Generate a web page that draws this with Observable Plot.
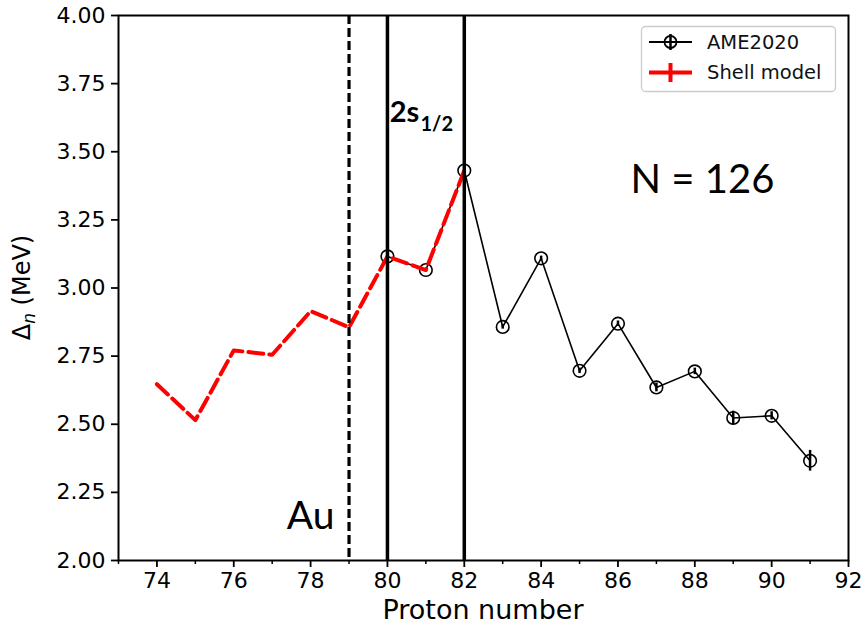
<!DOCTYPE html>
<html>
<head>
<meta charset="utf-8">
<script src="https://cdn.jsdelivr.net/npm/d3@7"></script>
<script src="https://cdn.jsdelivr.net/npm/@observablehq/plot@0.6"></script>
<style>
  html, body { margin: 0; padding: 0; background: white; }
  #chart { width: 861px; height: 632px; }
</style>
</head>
<body>
<div id="chart"></div>
<script>
// Shell model (red dashed)
const shellZ = [74, 75, 76, 77, 78, 79, 80, 81, 82];
const shellD = [2.647, 2.515, 2.771, 2.755, 2.915, 2.856, 3.116, 3.066, 3.431];
// AME2020 (black, circles with error bars)
const ameZ = [80, 81, 82, 83, 84, 85, 86, 87, 88, 89, 90, 91];
const ameD = [3.116, 3.066, 3.431, 2.857, 3.109, 2.696, 2.869, 2.635, 2.694, 2.523, 2.531, 2.366];
const ameErr = [0.006, 0.006, 0.006, 0.008, 0.008, 0.01, 0.01, 0.016, 0.012, 0.025, 0.015, 0.038];
// Reference lines
const dashedLines = [79];
const solidLines = [80, 82];
// Tick values
const xTicks = [74, 76, 78, 80, 82, 84, 86, 88, 90, 92];
const xMinorTicks = [73, 75, 77, 79, 81, 83, 85, 87, 89, 91];
const yTicks = [2.0, 2.25, 2.5, 2.75, 3.0, 3.25, 3.5, 3.75, 4.0];
// Annotations
const annN = [{x: 88.2, y: 3.35, text: "N = 126"}];
const annAu = [{x: 78.62, y: 2.115, text: "Au"}];
const annOrbit = [{x: 80.06, y: 3.61, text: "2s"}];
const annOrbitSub = [{x: 80.86, y: 3.575, text: "1/2"}];

const shell = shellZ.map((z, i) => ({z, d: shellD[i]}));
const ame = ameZ.map((z, i) => ({z, d: ameD[i], e: ameErr[i]}));

const W = 861, H = 632;
const mL = 118, mR = 13, mT = 15, mB = 72;

const plot = Plot.plot({
  width: W, height: H,
  marginLeft: mL, marginRight: mR, marginTop: mT, marginBottom: mB,
  style: {fontFamily: "DejaVu Sans", fontSize: "22px", color: "black", background: "white"},
  x: {domain: [73, 92]},
  y: {domain: [2, 4]},
  marks: [
    Plot.line(ame, {x: "z", y: "d", stroke: "black", strokeWidth: 1.6}),
    Plot.ruleX(ame, {x: "z", y1: d => d.d - d.e, y2: d => d.d + d.e, stroke: "black", strokeWidth: 2.5}),
    Plot.dot(ame, {x: "z", y: "d", r: 6.3, fill: "none", stroke: "black", strokeWidth: 1.6}),
    Plot.line(shell, {x: "z", y: "d", stroke: "#ff0000", strokeWidth: 4, strokeDasharray: "15,6"}),
    Plot.ruleX(dashedLines, {stroke: "black", strokeWidth: 3.2, strokeDasharray: "9,4"}),
    Plot.ruleX(solidLines, {stroke: "black", strokeWidth: 3.5}),
    Plot.text(annN, {x: "x", y: "y", text: "text", textAnchor: "middle", lineAnchor: "bottom", fontSize: 40, fontFamily: "Lato", fill: "black"}),
    Plot.text(annAu, {x: "x", y: "y", text: "text", textAnchor: "end", lineAnchor: "bottom", fontSize: 39, fontFamily: "Lato", fill: "black"}),
    Plot.text(annOrbit, {x: "x", y: "y", text: "text", textAnchor: "start", lineAnchor: "bottom", fontSize: 29, fontWeight: "bold", fontFamily: "Lato", fill: "black"}),
    Plot.text(annOrbitSub, {x: "x", y: "y", text: "text", textAnchor: "start", lineAnchor: "bottom", fontSize: 20, fontWeight: "bold", fontFamily: "Lato", fill: "black"}),
    Plot.axisX(xTicks, {tickSize: 7, tickPadding: 5, strokeWidth: 1.8, label: null, fontSize: 22}),
    Plot.axisX(xMinorTicks, {tickSize: 4, strokeWidth: 1.5, tickFormat: () => "", label: null}),
    Plot.axisY(yTicks, {tickSize: 7, tickPadding: 6, strokeWidth: 1.8, tickFormat: d3.format(".2f"), label: null, fontSize: 22}),
    Plot.frame({stroke: "black", strokeWidth: 2})
  ]
});

document.getElementById("chart").appendChild(plot);

const svg = d3.select(plot);

// Axis titles
svg.append("text")
  .attr("x", mL + (W - mL - mR) / 2)
  .attr("y", 619)
  .attr("text-anchor", "middle")
  .attr("font-family", "DejaVu Sans")
  .attr("font-size", 27)
  .attr("fill", "black")
  .text("Proton number");

const yl = svg.append("text")
  .attr("transform", `translate(30, ${mT + (H - mT - mB) / 2}) rotate(-90)`)
  .attr("text-anchor", "middle")
  .attr("font-family", "DejaVu Sans")
  .attr("font-size", 24)
  .attr("fill", "black");
yl.append("tspan").text("Δ");
yl.append("tspan").attr("font-style", "italic").attr("font-size", 17).attr("dy", 5).text("n");
yl.append("tspan").attr("dy", -5).text(" (MeV)");

// Legend
const lg = svg.append("g").attr("transform", `translate(${W - 220}, 26)`);
lg.append("rect").attr("x", 0.5).attr("y", 0.5).attr("width", 194).attr("height", 65)
  .attr("rx", 4).attr("fill", "white").attr("stroke", "#cccccc").attr("stroke-width", 1.3);
// AME2020 entry
lg.append("line").attr("x1", 8).attr("x2", 51).attr("y1", 16).attr("y2", 16).attr("stroke", "black").attr("stroke-width", 2);
lg.append("line").attr("x1", 29.5).attr("x2", 29.5).attr("y1", 8).attr("y2", 24).attr("stroke", "black").attr("stroke-width", 2.5);
lg.append("circle").attr("cx", 29.5).attr("cy", 16).attr("r", 6).attr("fill", "none").attr("stroke", "black").attr("stroke-width", 1.8);
lg.append("text").attr("x", 66).attr("y", 23).attr("text-anchor", "start").attr("font-family", "DejaVu Sans").attr("font-size", 19.5).attr("fill", "#111").text("AME2020");
// Shell model entry
lg.append("line").attr("x1", 8).attr("x2", 51).attr("y1", 46.5).attr("y2", 46.5).attr("stroke", "#ff0000").attr("stroke-width", 4);
lg.append("line").attr("x1", 29.5).attr("x2", 29.5).attr("y1", 37).attr("y2", 56).attr("stroke", "#ff0000").attr("stroke-width", 4);
lg.append("text").attr("x", 66).attr("y", 53).attr("text-anchor", "start").attr("font-family", "DejaVu Sans").attr("font-size", 19.5).attr("fill", "#111").text("Shell model");
</script>
</body>
</html>
